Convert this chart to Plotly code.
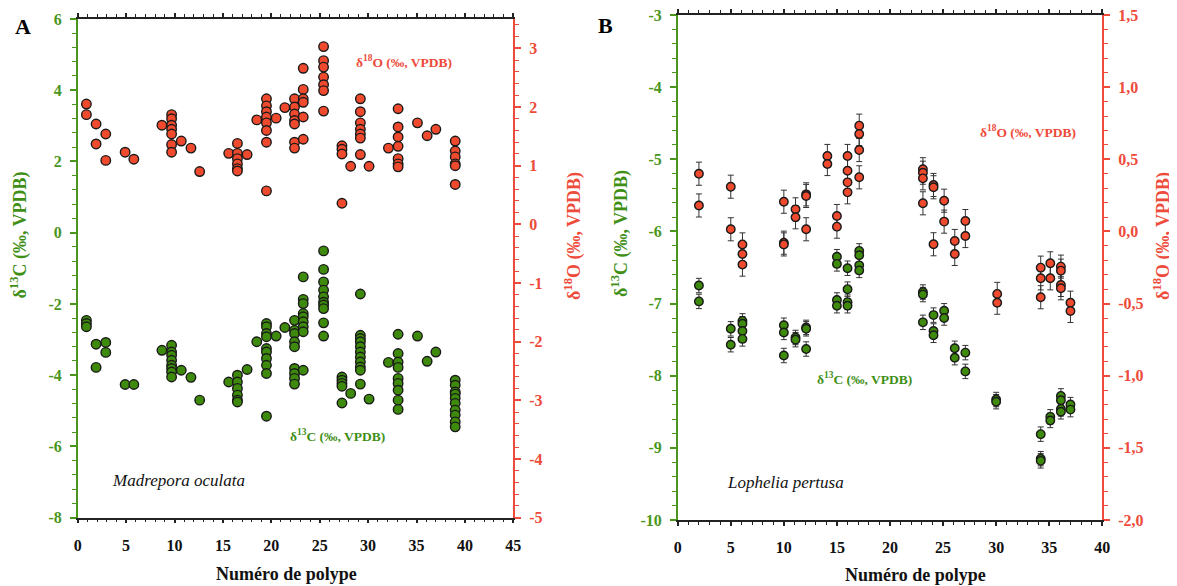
import plotly.graph_objects as go

# window is 1177x586; the page body adds an 8 px margin, so the figure is drawn
# 8 px in from the top-left corner. Coordinates below are in window pixels.
WIN_W, WIN_H = 1177, 586
OFF = 8
W, H = WIN_W - OFF, WIN_H - OFF
FONT = "Liberation Serif"
GREEN = "#4a961c"
GREEN_T = "#3f8f17"
RED = "#ee4b3a"
RED_FILL = "#f04a2e"
GREEN_FILL = "#3d8a0c"

# ---------------- Panel A : Madrepora oculata ----------------
a_o_x = [0.9, 1.9, 2.9, 4.9, 5.8, 8.7, 9.7, 10.7, 11.7, 12.6, 15.6, 16.5, 17.5, 18.5,
         19.5, 20.5, 21.4, 22.4, 23.3, 25.4, 27.3, 28.2, 29.2, 30.1, 32.1, 33.1,
         35.1, 36.1, 37.0, 39.0]
a_o18 = [[2.05, 1.87], [1.71, 1.37], [1.54, 1.09], [1.23], [1.11], [1.69],
         [1.87, 1.80, 1.69, 1.62, 1.54, 1.36, 1.23], [1.42], [1.30], [0.90], [1.21],
         [1.38, 1.21, 1.12, 1.03, 0.95, 0.91], [1.19], [1.78],
         [2.14, 2.02, 1.92, 1.83, 1.73, 1.60, 1.40, 0.57], [1.81], [1.99],
         [2.14, 2.00, 1.88, 1.77, 1.71, 1.40, 1.30],
         [2.66, 2.30, 2.14, 2.08, 1.83, 1.45],
         [3.03, 2.79, 2.68, 2.51, 2.38, 2.28, 1.93],
         [1.34, 1.28, 1.20, 0.36], [0.99],
         [2.14, 1.92, 1.73, 1.62, 1.54, 1.47, 1.19], [0.99], [1.30],
         [1.97, 1.66, 1.49, 1.33, 1.12, 1.03, 0.98], [1.73], [1.51], [1.62],
         [1.42, 1.25, 1.15, 1.03, 1.00, 0.68]]

a_c_x = a_o_x
a_c13 = [[-2.46, -2.55, -2.64], [-3.13, -3.78], [-3.08, -3.36], [-4.26], [-4.26], [-3.30],
         [-3.16, -3.35, -3.44, -3.58, -3.72, -3.81, -3.91, -4.05], [-3.86], [-4.06], [-4.70],
         [-4.19], [-4.00, -4.19, -4.37, -4.56, -4.70, -4.75], [-3.84], [-3.06],
         [-2.55, -2.64, -2.83, -2.92, -3.25, -3.35, -3.53, -3.72, -3.95, -5.15], [-2.90], [-2.66],
         [-2.46, -2.74, -2.83, -3.06, -3.20, -3.81, -3.95, -4.09, -4.25],
         [-1.24, -1.87, -1.99, -2.27, -2.36, -2.50, -2.64, -2.78, -3.86],
         [-0.51, -1.03, -1.38, -1.61, -1.80, -1.95, -2.03, -2.13, -2.53, -2.90],
         [-4.05, -4.14, -4.23, -4.31, -4.78], [-4.51],
         [-1.72, -2.88, -2.97, -3.06, -3.20, -3.35, -3.49, -3.63, -3.77, -3.86, -4.25],
         [-4.67], [-3.64],
         [-2.85, -3.39, -3.63, -3.78, -4.09, -4.23, -4.42, -4.70, -4.96],
         [-2.90], [-3.61], [-3.35],
         [-4.14, -4.28, -4.47, -4.53, -4.65, -4.79, -4.98, -5.12, -5.31, -5.45]]

# ---------------- Panel B : Lophelia pertusa ----------------
b_x = [2.0, 5.0, 6.1, 10.0, 11.1, 12.1, 14.1, 15.0, 16.0, 17.1, 23.1, 24.1, 25.1,
       26.1, 27.1, 30.1, 34.2, 35.1, 36.1, 37.0]
b_o18 = [[0.40, 0.18], [0.31, 0.015], [-0.09, -0.156, -0.23], [0.206, -0.078, -0.09],
         [0.153, 0.098], [0.257, 0.246, 0.015], [0.523, 0.467], [0.107, 0.033],
         [0.523, 0.421, 0.34, 0.271], [0.733, 0.675, 0.564, 0.375],
         [0.431, 0.407, 0.368, 0.195], [0.322, 0.306, -0.089], [0.213, 0.068],
         [-0.066, -0.156], [0.072, -0.032], [-0.433, -0.494],
         [-0.251, -0.325, -0.456], [-0.221, -0.325], [-0.244, -0.272, -0.371, -0.394],
         [-0.494, -0.551]]
b_c_x = [2.0, 5.0, 6.1, 10.0, 11.1, 12.1, 15.0, 16.0, 17.1, 23.1, 24.1, 25.1,
         26.1, 27.1, 30.0, 34.2, 35.1, 36.1, 37.0]
b_c13 = [[-6.75, -6.97], [-7.35, -7.57], [-7.24, -7.28, -7.38, -7.49], [-7.30, -7.40, -7.72],
         [-7.47, -7.50], [-7.33, -7.35, -7.63], [-6.35, -6.45, -6.95, -7.03],
         [-6.51, -6.80, -6.98, -7.03], [-6.27, -6.33, -6.47, -6.54],
         [-6.84, -6.875, -7.26], [-7.16, -7.38, -7.44], [-7.10, -7.20],
         [-7.62, -7.75], [-7.68, -7.94], [-8.33, -8.36], [-8.81, -9.15, -9.18],
         [-8.57, -8.62], [-8.28, -8.34, -8.46, -8.50], [-8.40, -8.47]]
b_err_o18 = 0.08
b_err_c13 = 0.10

# tick labels
a_x_ticks = [0, 5, 10, 15, 20, 25, 30, 35, 40, 45]
a_c_ticks = [-8, -6, -4, -2, 0, 2, 4, 6]
a_o_ticks = [-5, -4, -3, -2, -1, 0, 1, 2, 3]
b_x_ticks = [0, 5, 10, 15, 20, 25, 30, 35, 40]
b_c_ticks = [-10, -9, -8, -7, -6, -5, -4, -3]
b_o_ticks = [-2.0, -1.5, -1.0, -0.5, 0.0, 0.5, 1.0, 1.5]
b_o_labels = ["-2,0", "-1,5", "-1,0", "-0,5", "0,0", "0,5", "1,0", "1,5"]


def flat(xs, groups):
    X, Y = [], []
    for x, g in zip(xs, groups):
        for v in g:
            X.append(x)
            Y.append(v)
    return X, Y


def fx(px):
    return (px - OFF) / W


def fy(py):
    return 1 - (py - OFF) / H


fig = go.Figure()

mk_line = dict(color="#1a1a1a", width=1.4)

x, y = flat(a_o_x, a_o18)
fig.add_trace(go.Scatter(x=x, y=y, mode="markers", xaxis="x", yaxis="y2",
                         marker=dict(size=9.5, color=RED_FILL, line=mk_line)))
x, y = flat(a_c_x, a_c13)
fig.add_trace(go.Scatter(x=x, y=y, mode="markers", xaxis="x", yaxis="y",
                         marker=dict(size=9.5, color=GREEN_FILL, line=mk_line)))

eb = lambda v: dict(type="constant", value=v, color="#333333", thickness=1, width=3)
x, y = flat(b_c_x, b_c13)
fig.add_trace(go.Scatter(x=x, y=y, mode="markers", xaxis="x2", yaxis="y3",
                         error_y=eb(b_err_c13),
                         marker=dict(size=8.5, color=GREEN_FILL, line=mk_line)))
x, y = flat(b_x, b_o18)
fig.add_trace(go.Scatter(x=x, y=y, mode="markers", xaxis="x2", yaxis="y4",
                         error_y=eb(b_err_o18),
                         marker=dict(size=8.5, color=RED_FILL, line=mk_line)))

tickfont = lambda c: dict(family=FONT, size=16, color=c, weight="bold")


def xaxis(dom, rng, ticks, anchor):
    return dict(domain=dom, range=rng, anchor=anchor, automargin=False,
                tickmode="array", tickvals=ticks,
                ticktext=[str(t) for t in ticks], showgrid=False, zeroline=False,
                showline=True, linecolor="#222222", linewidth=1.5, mirror="ticks",
                ticks="outside", ticklen=4, tickwidth=1.5, tickcolor="#222222",
                minor=dict(tickmode="linear", tick0=0, dtick=1, ticklen=3, tickwidth=1,
                           tickcolor="#222222", ticks="outside"),
                tickfont=tickfont("#111111"), ticklabelstandoff=8,
                ticklabeloverflow="allow", fixedrange=True)


def yaxis(dom, rng, ticks, labels, color, side, minor_d, **kw):
    d = dict(domain=dom, range=rng, automargin=False, tickmode="array", tickvals=ticks,
             ticktext=labels,
             showgrid=False, zeroline=False, showline=True, linecolor=color, linewidth=1.5,
             ticks="outside", ticklen=6, tickwidth=1.5, tickcolor=color, side=side,
             minor=dict(tickmode="linear", tick0=ticks[0], dtick=minor_d, ticklen=4,
                        tickwidth=1, tickcolor=color, ticks="outside"),
             tickfont=tickfont(color), ticklabelstandoff=5,
             ticklabeloverflow="allow", fixedrange=True)
    d.update(kw)
    return d


ya = [fy(517.7), fy(19)]
yb = [fy(520), fy(15)]

fig.update_layout(
    width=W, height=H, margin=dict(l=0, r=0, t=0, b=0, autoexpand=False),
    paper_bgcolor="white", plot_bgcolor="white", showlegend=False,
    font=dict(family=FONT),
    xaxis=xaxis([fx(77.7), fx(513.3)], [0, 45], a_x_ticks, "y"),
    xaxis2=xaxis([fx(677.7), fx(1102.3)], [0, 40], b_x_ticks, "y3"),
    yaxis=yaxis(ya, [-8, 6], a_c_ticks, [str(t) for t in a_c_ticks], GREEN, "left", 0.4,
                anchor="x"),
    yaxis2=yaxis(ya, [-5, 3.5], a_o_ticks, [str(t) for t in a_o_ticks], RED, "right", 0.2,
                 anchor="x", overlaying="y"),
    yaxis3=yaxis(yb, [-10, -3], b_c_ticks, [str(t) for t in b_c_ticks], GREEN, "left", 0.2,
                 anchor="x2"),
    yaxis4=yaxis(yb, [-2, 1.5], b_o_ticks, b_o_labels, RED, "right", 0.1,
                 anchor="x2", overlaying="y3"),
)


def ann(px, py, text, size, color, angle=0, italic=False, bold=True):
    t = text
    if bold:
        t = "<b>" + t + "</b>"
    if italic:
        t = "<i>" + t + "</i>"
    fig.add_annotation(x=fx(px), y=fy(py), xref="paper", yref="paper", text=t,
                       showarrow=False, textangle=angle, xanchor="center", yanchor="middle",
                       font=dict(family=FONT, size=size, color=color))


C13 = "δ<sup>13</sup>C (‰, VPDB)"
O18 = "δ<sup>18</sup>O (‰, VPDB)"

ann(22.5, 26, "A", 22, "#000000")
ann(605, 25, "B", 22, "#000000")
ann(286, 574, "Numéro de polype", 18, "#111111")
ann(915, 575, "Numéro de polype", 18, "#111111")
ann(19.5, 235, C13, 18, GREEN_T, angle=-90)
ann(573, 236, O18, 18, RED, angle=-90)
ann(620, 234, C13, 18, GREEN_T, angle=-90)
ann(1162, 236, O18, 18, RED, angle=-90)
ann(404, 62, O18, 13.5, RED)
ann(337, 435, C13, 13.5, GREEN_T)
ann(1028, 132, O18, 13.5, RED)
ann(864, 378, C13, 13.5, GREEN_T)
ann(178, 480, "Madrepora oculata", 17, "#111111", italic=True, bold=False)
ann(785, 482, "Lophelia pertusa", 17, "#111111", italic=True, bold=False)

fig.write_html("out.html")
